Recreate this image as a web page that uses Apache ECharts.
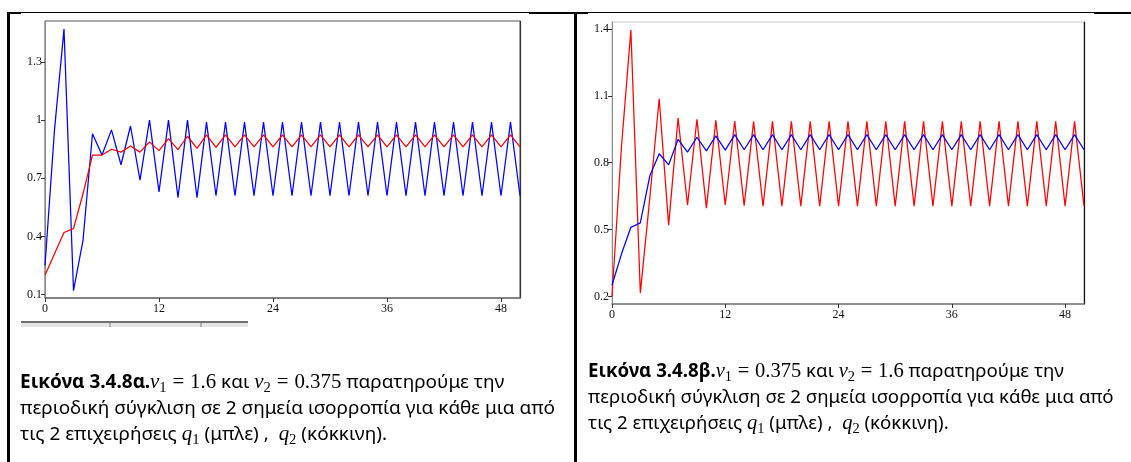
<!DOCTYPE html>
<html>
<head>
<meta charset="utf-8">
<script src="https://cdn.jsdelivr.net/npm/echarts@6/dist/echarts.min.js"></script>
<style>
  html, body { margin: 0; padding: 0; background: #fff; }
  #page { position: relative; width: 1131px; height: 462px; overflow: hidden; background: #fff; }
  #chart { position: absolute; left: 0; top: 0; width: 1131px; height: 462px; }
  .rule { position: absolute; background: #000; pointer-events: none; }
  .strip { position: absolute; pointer-events: none; }
  .cap { position: absolute; font-family: "Noto Sans", "Open Sans", sans-serif; font-size: 16px; color: #000; }
  .ln { height: 26px; line-height: 26px; white-space: nowrap; }
  .ln > span.w { display: inline-block; }
  .m { font-family: "Liberation Serif", "DejaVu Serif", serif; font-size: 1.1em; }
  .m i { font-style: italic; }
  .m .eq { padding: 0 0.28em; }
  .m sub { font-size: 0.7em; vertical-align: -0.25em; line-height: 0; font-style: normal; }
  b { font-weight: 700; }
</style>
</head>
<body>
<div id="page">
  <div id="chart"></div>

  <!-- table frame -->
  <div class="rule" style="left:7px;top:12px;width:1124px;height:1px;"></div>
  <div class="rule" style="left:1094px;top:12px;width:37px;height:2px;"></div>
  <div class="rule" style="left:7px;top:12px;width:14px;height:2px;"></div>
  <div class="rule" style="left:529px;top:12px;width:59px;height:2px;"></div>
  <div class="rule" style="left:7px;top:12px;width:3px;height:450px;"></div>
  <div class="rule" style="left:574px;top:12px;width:3px;height:450px;"></div>

  <!-- strip under the first plot -->
  <div class="strip" style="left:21px;top:321px;width:227px;height:2px;background:#6f6f6f;"></div>
  <div class="strip" style="left:21px;top:323px;width:227px;height:4px;background:#e4e4e4;"></div>
  <div class="strip" style="left:109px;top:323px;width:2px;height:4px;background:#b0b0b0;"></div>
  <div class="strip" style="left:200px;top:323px;width:2px;height:4px;background:#b0b0b0;"></div>

  <div class="cap" id="capA" style="left:20px;top:368px;">
    <div class="ln"><span class="w"><b>Εικόνα 3.4.8α.</b><span class="m"><i>v</i><sub>1</sub><span class="eq">=</span>1.6</span> και <span class="m"><i>v</i><sub>2</sub><span class="eq">=</span>0.375</span> παρατηρούμε την</span></div>
    <div class="ln"><span class="w" id="fitA">περιοδική σύγκλιση σε 2 σημεία ισορροπία για κάθε μια από</span></div>
    <div class="ln"><span class="w">τις 2 επιχειρήσεις <span class="m"><i>q</i><sub>1</sub></span> (μπλε) ,&nbsp; <span class="m"><i>q</i><sub>2</sub></span> (κόκκινη).</span></div>
  </div>

  <div class="cap" id="capB" style="left:588px;top:357px;">
    <div class="ln"><span class="w"><b>Εικόνα 3.4.8β.</b><span class="m"><i>v</i><sub>1</sub><span class="eq">=</span>0.375</span> και <span class="m"><i>v</i><sub>2</sub><span class="eq">=</span>1.6</span> παρατηρούμε την</span></div>
    <div class="ln"><span class="w" id="fitB">περιοδική σύγκλιση σε 2 σημεία ισορροπία για κάθε μια από</span></div>
    <div class="ln"><span class="w">τις 2 επιχειρήσεις <span class="m"><i>q</i><sub>1</sub></span> (μπλε) ,&nbsp; <span class="m"><i>q</i><sub>2</sub></span> (κόκκινη).</span></div>
  </div>
</div>

<script>
// Time steps t = 0 … 50
const steps = [];
for (let t = 0; t <= 50; t++) steps.push(t);

// Panel α: v1 = 1.6, v2 = 0.375
const q1A = [0.25, 0.95, 1.47, 0.12, 0.38, 0.93, 0.82, 0.95, 0.77, 0.97,
             0.69, 1.00, 0.63, 1.00, 0.60, 1.00, 0.60, 0.99, 0.61, 0.99,
             0.61, 0.99, 0.61, 0.99, 0.61, 0.99, 0.61, 0.99, 0.61, 0.99,
             0.61, 0.99, 0.61, 0.99, 0.61, 0.99, 0.61, 0.99, 0.61, 0.99,
             0.61, 0.99, 0.61, 0.99, 0.61, 0.99, 0.61, 0.99, 0.61, 0.99,
             0.61];
const q2A = [0.20, 0.31, 0.42, 0.44, 0.62, 0.82, 0.82, 0.85, 0.835, 0.867,
             0.835, 0.888, 0.843, 0.905, 0.848, 0.917, 0.855, 0.924, 0.86, 0.924,
             0.862, 0.924, 0.862, 0.924, 0.862, 0.924, 0.862, 0.924, 0.862, 0.924,
             0.862, 0.924, 0.862, 0.924, 0.862, 0.924, 0.862, 0.924, 0.862, 0.924,
             0.862, 0.924, 0.862, 0.924, 0.862, 0.924, 0.862, 0.924, 0.862, 0.924,
             0.862];

// Panel β: v1 = 0.375, v2 = 1.6
const q1B = [0.25, 0.39, 0.51, 0.53, 0.74, 0.84, 0.79, 0.905, 0.847, 0.914,
             0.853, 0.92, 0.856, 0.926, 0.858, 0.926, 0.858, 0.926, 0.858, 0.926,
             0.858, 0.926, 0.858, 0.926, 0.858, 0.926, 0.858, 0.926, 0.858, 0.926,
             0.858, 0.926, 0.858, 0.926, 0.858, 0.926, 0.858, 0.926, 0.858, 0.926,
             0.858, 0.926, 0.858, 0.926, 0.858, 0.926, 0.858, 0.926, 0.858, 0.926,
             0.858];
const q2B = [0.20, 0.87, 1.395, 0.215, 0.64, 1.087, 0.52, 1.00, 0.61, 0.995,
             0.596, 0.99, 0.61, 0.987, 0.607, 0.985, 0.605, 0.985, 0.605, 0.985,
             0.605, 0.985, 0.605, 0.985, 0.605, 0.985, 0.605, 0.985, 0.605, 0.985,
             0.605, 0.985, 0.605, 0.985, 0.605, 0.985, 0.605, 0.985, 0.605, 0.985,
             0.605, 0.985, 0.605, 0.985, 0.605, 0.985, 0.605, 0.985, 0.605, 0.985,
             0.605];

// Tick marks
const xTicks = [0, 12, 24, 36, 48];
const yTicksA = [0.1, 0.4, 0.7, 1, 1.3];
const yTicksB = [0.2, 0.5, 0.8, 1.1, 1.4];

const pairs = (ys) => steps.map((t, i) => [t, ys[i]]);

const tickFont = { fontFamily: '"Liberation Serif", "DejaVu Serif", serif', fontSize: 12, color: '#111' };

function xAxisFor(gridIndex) {
  return {
    type: 'value', gridIndex, min: 0, max: 50,
    splitLine: { show: false },
    axisLine: { show: true, lineStyle: { color: '#777', width: 1.5 } },
    axisTick: { show: true, length: 4, lineStyle: { color: '#333' }, customValues: xTicks },
    axisLabel: Object.assign({ margin: 5, customValues: xTicks }, tickFont)
  };
}
function yAxisFor(gridIndex, min, max, ticks) {
  return {
    type: 'value', gridIndex, min, max,
    splitLine: { show: false },
    axisLine: { show: true, lineStyle: { color: '#888', width: 1 } },
    axisTick: { show: true, length: 4, lineStyle: { color: '#333' }, customValues: ticks },
    axisLabel: Object.assign({ margin: 3, customValues: ticks }, tickFont)
  };
}
function rightEdge(gridIndex, color) {
  return {
    type: 'value', gridIndex, position: 'right', min: 0, max: 1,
    splitLine: { show: false }, axisTick: { show: false }, axisLabel: { show: false },
    axisLine: { show: true, lineStyle: { color, width: 1.2 } }
  };
}
function line(name, data, color, xi, yi) {
  return {
    name, type: 'line', data: pairs(data), xAxisIndex: xi, yAxisIndex: yi,
    showSymbol: false, symbol: 'none', animation: false,
    lineStyle: { color, width: 1.25 }
  };
}

const chart = echarts.init(document.getElementById('chart'), null, { renderer: 'canvas' });
chart.setOption({
  animation: false,
  backgroundColor: '#fff',
  grid: [
    { left: 45, top: 21, width: 475, height: 277, show: true, borderColor: '#555', borderWidth: 1, backgroundColor: '#fff' },
    { left: 612, top: 22, width: 472, height: 282, show: true, borderColor: '#c8c8c8', borderWidth: 1, backgroundColor: '#fff' }
  ],
  xAxis: [xAxisFor(0), xAxisFor(1)],
  yAxis: [
    yAxisFor(0, 0.082, 1.512, yTicksA),
    yAxisFor(1, 0.166, 1.431, yTicksB),
    rightEdge(0, '#333'),
    rightEdge(1, '#111')
  ],
  series: [
    line('q1', q1A, '#0000ff', 0, 0),
    line('q2', q2A, '#ff0000', 0, 0),
    line('q2', q2B, '#ff0000', 1, 1),
    line('q1', q1B, '#0000ff', 1, 1)
  ]
});

// Size each caption so its full second line spans the cell's text width
function fitCaption(capId, spanId, target) {
  const cap = document.getElementById(capId);
  const span = document.getElementById(spanId);
  const w = span.getBoundingClientRect().width;
  const size = parseFloat(getComputedStyle(cap).fontSize);
  cap.style.fontSize = (size * target / w).toFixed(2) + 'px';
}
fitCaption('capA', 'fitA', 535);
fitCaption('capB', 'fitB', 526);
</script>
</body>
</html>
